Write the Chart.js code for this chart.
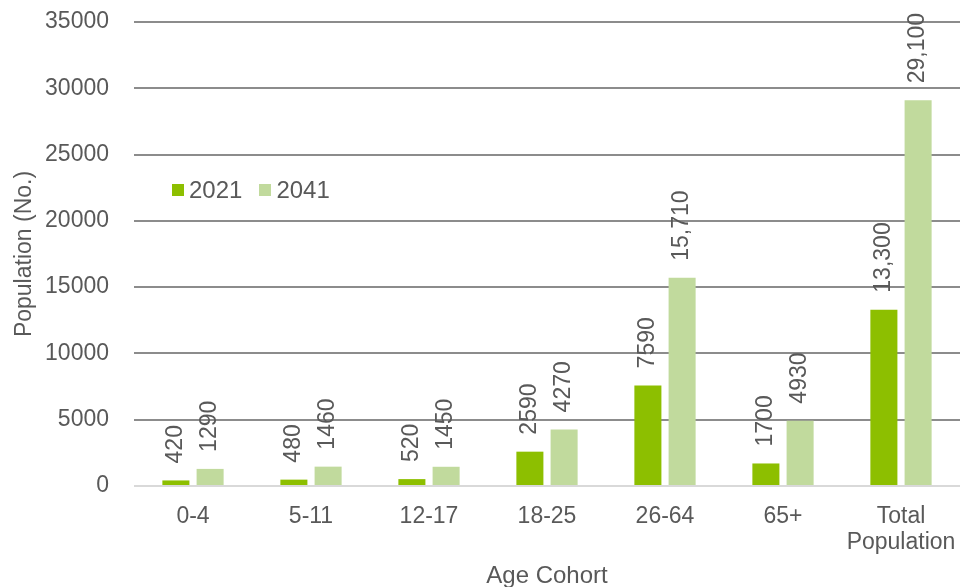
<!DOCTYPE html>
<html>
<head>
<meta charset="utf-8">
<script src="https://cdn.jsdelivr.net/npm/chart.js@4"></script>
<style>
    html, body { margin: 0; padding: 0; background: #fff; }
    #wrap { position: relative; width: 962px; height: 587px; }
    #legend { position: absolute; left: 172px; top: 176px; font: 24px 'Liberation Sans', Arial, sans-serif; color: #595959; white-space: nowrap; }
    #legend span.item { margin-right: 17px; }
    #legend i { display: inline-block; width: 12px; height: 12px; margin-right: 5px; vertical-align: 2px; }
</style>
</head>
<body>
<div id="wrap">
    <canvas id="chartPop" width="962" height="587"></canvas>
    <div id="legend"></div>
</div>
<script>
var categories = ['0-4', '5-11', '12-17', '18-25', '26-64', '65+', ['Total', 'Population']];
var pop2021 = [420, 480, 520, 2590, 7590, 1700, 13300];
var pop2041 = [1290, 1460, 1450, 4270, 15710, 4930, 29100];
var labels2021 = ['420', '480', '520', '2590', '7590', '1700', '13,300'];
var labels2041 = ['1290', '1460', '1450', '4270', '15,710', '4930', '29,100'];

var fontFamily = "'Liberation Sans', Arial, sans-serif";
var textColor = '#595959';

var valueLabels = {
    id: 'valueLabels',
    afterDatasetsDraw: function (chart) {
        var ctx = chart.ctx;
        chart.data.datasets.forEach(function (ds, i) {
            var meta = chart.getDatasetMeta(i);
            meta.data.forEach(function (bar, j) {
                ctx.save();
                ctx.translate(bar.x, bar.y - 17);
                ctx.rotate(-Math.PI / 2);
                ctx.font = '23px ' + fontFamily;
                ctx.fillStyle = textColor;
                ctx.textAlign = 'left';
                ctx.textBaseline = 'middle';
                ctx.fillText(ds.valueText[j], 0, 0);
                ctx.restore();
            });
        });
    }
};

var chart = new Chart(document.getElementById('chartPop').getContext('2d'), {
    type: 'bar',
    data: {
        labels: categories,
        datasets: [
            { label: '2021', data: pop2021, valueText: labels2021, backgroundColor: '#8dbf00' },
            { label: '2041', data: pop2041, valueText: labels2041, backgroundColor: '#c1da9d' },
        ],
    },
    options: {
        responsive: false,
        animation: false,
        layout: { padding: { top: 22, right: 2, bottom: 0, left: 0 } },
        categoryPercentage: 0.58,
        barPercentage: 0.79,
        plugins: {
            legend: { display: false },
            tooltip: { enabled: false },
        },
        scales: {
            x: {
                grid: { display: false },
                border: { display: false },
                ticks: { color: textColor, font: { family: fontFamily, size: 23, lineHeight: 1.13 }, padding: 10, maxRotation: 0 },
                title: { display: true, text: 'Age Cohort', color: textColor, font: { family: fontFamily, size: 24, lineHeight: 0.9 }, padding: 0 },
                afterFit: function (s) { s.height = 101; s.paddingLeft = 0; s.paddingRight = 0; },
            },
            y: {
                min: 0,
                max: 35000,
                ticks: {
                    stepSize: 5000, color: textColor, font: { family: fontFamily, size: 23 }, padding: 25,
                    callback: function (v) { return String(v); },
                },
                grid: {
                    drawTicks: false,
                    lineWidth: 2,
                    color: function (c) { return c.tick && c.tick.value === 0 ? '#d9d9d9' : '#8c8c8c'; },
                },
                border: { display: false },
                title: { display: true, text: 'Population (No.)', color: textColor, font: { family: fontFamily, size: 23 }, padding: { top: 11, bottom: 0 } },
                afterFit: function (s) { s.width = 134; s.paddingTop = 0; s.paddingBottom = 0; },
            },
        },
    },
    plugins: [valueLabels],
});

var legend = document.getElementById('legend');
chart.data.datasets.forEach(function (ds) {
    var item = document.createElement('span');
    item.className = 'item';
    item.innerHTML = '<i style="background:' + ds.backgroundColor + '"></i>' + ds.label;
    legend.appendChild(item);
});
</script>
</body>
</html>
